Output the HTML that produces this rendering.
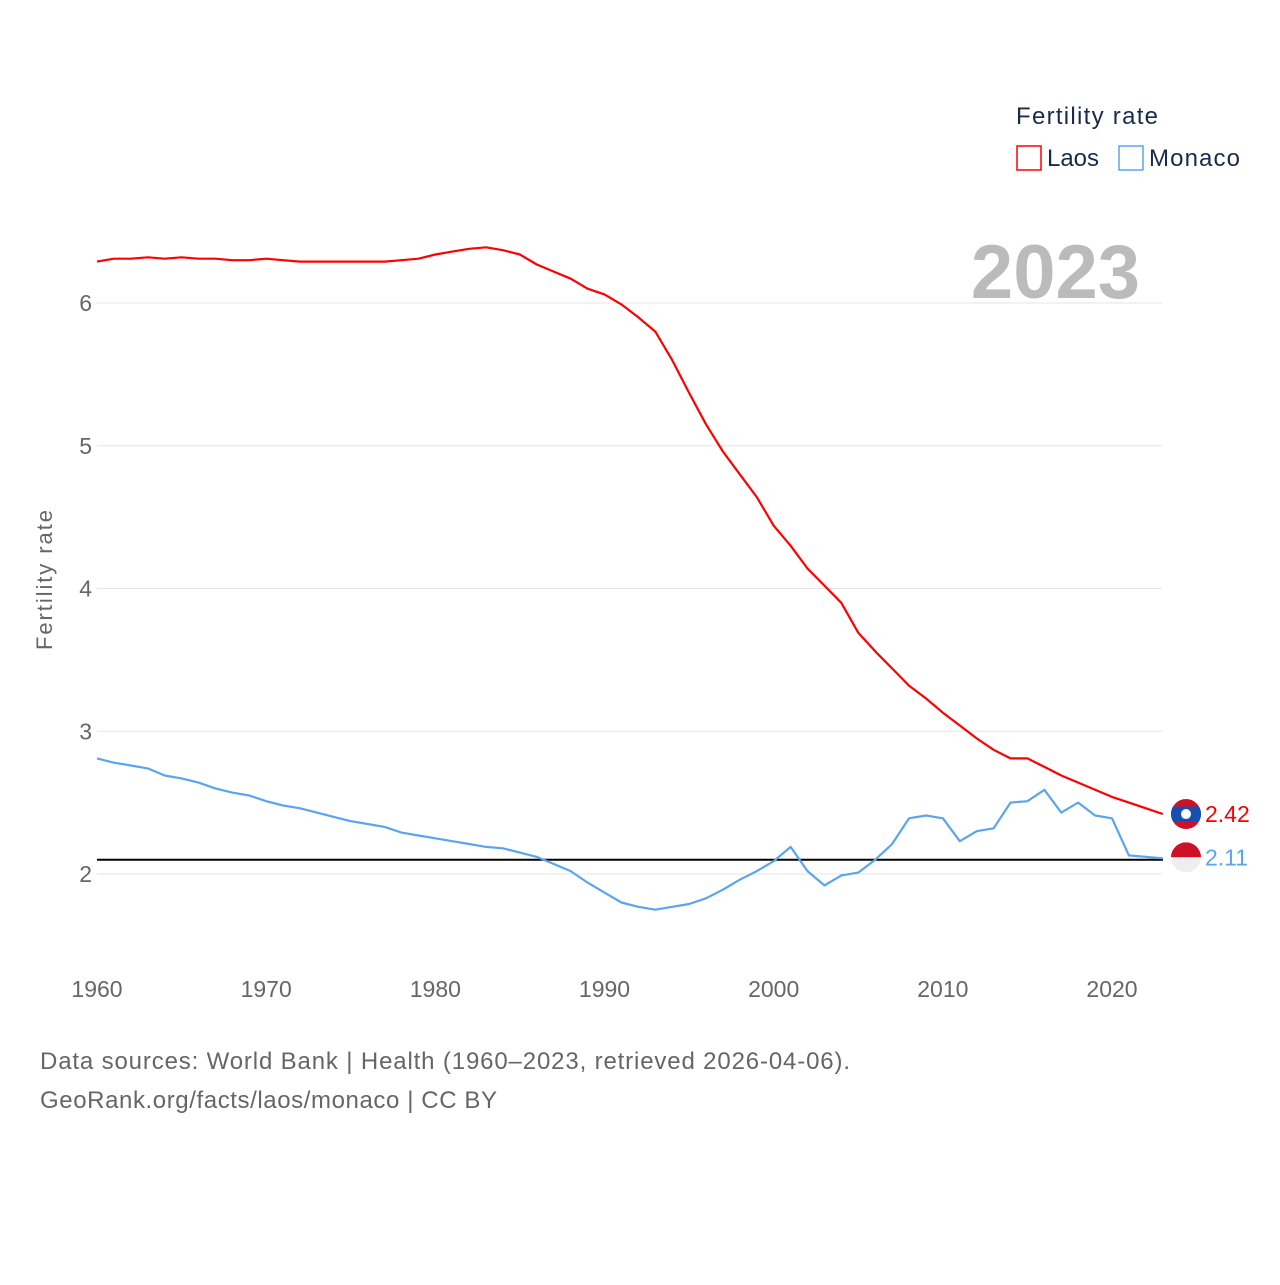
<!DOCTYPE html>
<html><head><meta charset="utf-8"><style>
body{margin:0;background:#fff;font-family:"Liberation Sans",sans-serif}
svg text{font-family:"Liberation Sans",sans-serif}
</style></head><body>
<svg id="chart" width="1280" height="1280">
<g id="grid"></g>
<g id="yticks"></g>
<g id="xticks"></g>
<text x="52" y="580" transform="rotate(-90 52 580)" text-anchor="middle" font-size="22" fill="#666" textLength="140">Fertility rate</text>
<text x="1140" y="298" text-anchor="end" font-size="76" font-weight="bold" fill="#bbb">2023</text>
<g id="series"></g>
<g>
<text x="1016" y="124" font-size="24" fill="#1a2a4a" textLength="142">Fertility rate</text>
<g><rect x="1017" y="146" width="24" height="24" fill="none" stroke="#ff0000" stroke-width="1.5"/><text x="1047" y="166" font-size="24" fill="#1a2a4a" textLength="52">Laos</text></g>
<g><rect x="1119" y="146" width="24" height="24" fill="none" stroke="#5aa5ee" stroke-width="1.5"/><text x="1149" y="166" font-size="24" fill="#1a2a4a" textLength="91">Monaco</text></g>
</g>
<text x="40" y="1069" font-size="24" fill="#666" textLength="810">Data sources: World Bank | Health (1960–2023, retrieved 2026-04-06).</text>
<text x="40" y="1108" font-size="24" fill="#666" textLength="457">GeoRank.org/facts/laos/monaco | CC BY</text>
</svg>
<script>
const years=[];for(let y=1960;y<=2023;y++)years.push(y);
const laos=[6.29,6.31,6.31,6.32,6.31,6.32,6.31,6.31,6.30,6.30,6.31,6.30,6.29,6.29,6.29,6.29,6.29,6.29,6.30,6.31,6.34,6.36,6.38,6.39,6.37,6.34,6.27,6.22,6.17,6.10,6.06,5.99,5.90,5.80,5.60,5.37,5.15,4.96,4.80,4.64,4.44,4.30,4.14,4.02,3.90,3.69,3.56,3.44,3.32,3.23,3.13,3.04,2.95,2.87,2.81,2.81,2.75,2.69,2.64,2.59,2.54,2.50,2.46,2.42];
const monaco=[2.81,2.78,2.76,2.74,2.69,2.67,2.64,2.60,2.57,2.55,2.51,2.48,2.46,2.43,2.40,2.37,2.35,2.33,2.29,2.27,2.25,2.23,2.21,2.19,2.18,2.15,2.12,2.07,2.02,1.94,1.87,1.80,1.77,1.75,1.77,1.79,1.83,1.89,1.96,2.02,2.09,2.19,2.02,1.92,1.99,2.01,2.10,2.21,2.39,2.41,2.39,2.23,2.30,2.32,2.50,2.51,2.59,2.43,2.50,2.41,2.39,2.13,2.12,2.11];
const yTicks=[2,3,4,5,6];
const xTicks=[1960,1970,1980,1990,2000,2010,2020];
const replacement=2.1;
const NS="http://www.w3.org/2000/svg";
const X=y=>97+(y-1960)*16.917;
const Y=v=>874-(v-2)*142.75;
function mk(p,t,a){const e=document.createElementNS(NS,t);for(const k in a)e.setAttribute(k,a[k]);p.appendChild(e);return e;}
const grid=document.getElementById('grid'),yt=document.getElementById('yticks'),xt=document.getElementById('xticks'),ser=document.getElementById('series');
yTicks.forEach(v=>{
 const l=mk(grid,'line',{x1:97,x2:1162,y1:Y(v),y2:Y(v),stroke:'#e6e6e6','stroke-width':1});
 
 
 const t=mk(yt,'text',{x:92,y:Y(v)+8,'text-anchor':'end','font-size':23,fill:'#666'});t.textContent=v;
 
 
});
xTicks.forEach(v=>{
 const t=mk(xt,'text',{x:X(v),y:997,'text-anchor':'middle','font-size':23,fill:'#666'});t.textContent=v;
 
 
});
const ref=mk(ser,'line',{x1:97,x2:1163,y1:Y(replacement),y2:Y(replacement),stroke:'#000','stroke-width':2});


function line(data,color,name){
 const p=mk(ser,'path',{d:data.map((v,i)=>(i?'L':'M')+X(years[i]).toFixed(1)+','+Y(v).toFixed(1)).join(''),fill:'none',stroke:color,'stroke-width':2.2,'stroke-linejoin':'round'});
 
 
}
line(monaco,'#5aa5ee','monaco-line');
line(laos,'#ff0000','laos-line');
const lx=1186,ly=Y(laos[laos.length-1]),mY=Y(monaco[monaco.length-1])-1;
const defs=mk(ser,'defs',{});
const c1=mk(defs,'clipPath',{id:'cl1'});mk(c1,'circle',{cx:lx,cy:ly,r:15});
const c2=mk(defs,'clipPath',{id:'cl2'});mk(c2,'circle',{cx:lx,cy:mY,r:15});
const f1=mk(ser,'g',{'clip-path':'url(#cl1)'});


mk(f1,'rect',{x:lx-15,y:ly-15,width:30,height:30,fill:'#ce1126'});
mk(f1,'rect',{x:lx-15,y:ly-7.5,width:30,height:15,fill:'#1550b0'});
mk(f1,'circle',{cx:lx,cy:ly,r:5,fill:'#fff'});
const f2=mk(ser,'g',{'clip-path':'url(#cl2)'});


mk(f2,'rect',{x:lx-15,y:mY-15,width:30,height:15,fill:'#ce1126'});
mk(f2,'rect',{x:lx-15,y:mY,width:30,height:15,fill:'#eee'});
const t1=mk(ser,'text',{x:1205,y:ly+8,'font-size':23,fill:'#ff0000'});t1.textContent=laos[laos.length-1].toFixed(2);


const t2=mk(ser,'text',{x:1205,y:mY+8,'font-size':23,fill:'#5aa5ee'});t2.textContent=monaco[monaco.length-1].toFixed(2);


</script>
</body></html>
